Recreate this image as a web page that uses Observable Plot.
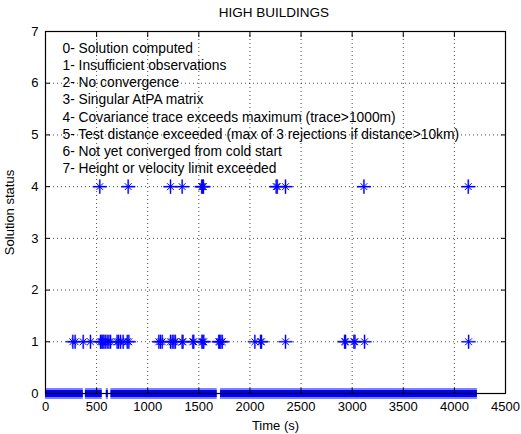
<!DOCTYPE html>
<html>
<head>
<meta charset="utf-8">
<script src="https://cdn.jsdelivr.net/npm/d3@7"></script>
<script src="https://cdn.jsdelivr.net/npm/@observablehq/plot@0.6"></script>
<style>
  html, body { margin: 0; padding: 0; background: #fff; }
  body { width: 521px; height: 434px; overflow: hidden; font-family: "Liberation Sans", Arial, sans-serif; }
  #title { height: 24px; width: 521px; position: relative; }
  #title span { position: absolute; left: 274px; top: 5px; transform: translateX(-50%); font-size: 13.5px; color: #000; white-space: nowrap; }
</style>
</head>
<body>
<div id="title"><span id="titleText"></span></div>
<div id="chart"></div>
<script>
const titleText = "HIGH BUILDINGS";
const xLabel = "Time (s)";
const yLabel = "Solution status";
const xTicks = [0, 500, 1000, 1500, 2000, 2500, 3000, 3500, 4000, 4500];
const yTicks = [0, 1, 2, 3, 4, 5, 6, 7];

// status 0: runs of (nearly) continuous epochs [start, end] in seconds
const status0Start = [0, 390, 595, 640, 1712];
const status0End   = [370, 555, 615, 1680, 4225];

// status 1 epochs (s)
const status1Times = [267, 290, 369, 440, 538, 550, 560, 571, 585, 603, 620, 636, 701, 715, 734, 760, 800, 815,
  1109, 1125, 1142, 1223, 1240, 1256, 1270, 1337, 1345, 1441, 1450, 1530, 1539, 1548, 1695, 1703, 1715, 1729,
  2048, 2104, 2113, 2348, 2926, 2935, 3017, 3027, 3121, 4139];

// status 4 epochs (s)
const status4Times = [531, 809, 1223, 1337, 1528, 1536, 1545, 2257, 2267, 2348, 3115, 4136];

const legendLines = [
  "0- Solution computed",
  "1- Insufficient observations",
  "2- No convergence",
  "3- Singular AtPA matrix",
  "4- Covariance trace exceeds maximum (trace>1000m)",
  "5- Test distance exceeded (max of 3 rejections if distance>10km)",
  "6- Not yet converged from cold start",
  "7- Height or velocity limit exceeded"
];

document.getElementById("titleText").textContent = titleText;

const segments = status0Start.map((s, i) => ({start: s, end: status0End[i], status: 0}));
const points = [
  ...status1Times.map(t => ({time: t, status: 1})),
  ...status4Times.map(t => ({time: t, status: 4}))
];

const blue = "#0000ff";
const chart = Plot.plot({
  width: 521,
  height: 410,
  marginTop: 7,
  marginBottom: 41,
  marginLeft: 45,
  marginRight: 16,
  style: {fontFamily: "'Liberation Sans', Arial, sans-serif", fontSize: "13px", color: "#000", background: "#fff"},
  x: {domain: [0, 4500]},
  y: {domain: [0, 7]},
  marks: [
    Plot.gridX(xTicks, {stroke: "#000", strokeOpacity: 0.7, strokeDasharray: "1,3"}),
    Plot.gridY(yTicks, {stroke: "#000", strokeOpacity: 0.7, strokeDasharray: "1,3"}),
    Plot.text([legendLines.join("\n")], {
      frameAnchor: "top-left", dx: 17, dy: 9, lineAnchor: "top", lineHeight: 1.25,
      textAnchor: "start", fontSize: 13.8, fill: "#000"
    }),
    Plot.ruleY(segments, {x1: "start", x2: "end", y: "status", stroke: "#8080ff", strokeWidth: 11}),
    Plot.ruleY(segments, {x1: "start", x2: "end", y: "status", stroke: blue, strokeWidth: 7}),
    Plot.dot(points, {x: "time", y: "status", symbol: "plus", r: 4.6, stroke: "#9a9aff", strokeWidth: 2}),
    Plot.dot(points, {x: "time", y: "status", symbol: "plus", r: 4.6, stroke: blue, strokeWidth: 1.1}),
    Plot.dot(points, {x: "time", y: "status", symbol: "times", r: 3.2, stroke: blue, strokeWidth: 1}),
    Plot.frame({stroke: "#000", strokeWidth: 1.2}),
    Plot.axisX(xTicks, {anchor: "bottom", tickSize: -5, tickPadding: 13, tickFormat: d => String(d), label: xLabel, labelAnchor: "center", labelArrow: "none", labelOffset: 36}),
    Plot.axisX(xTicks, {anchor: "top", tickSize: -5, tickFormat: () => "", label: null}),
    Plot.axisY(yTicks, {anchor: "left", tickSize: -5, tickPadding: 12, tickFormat: d => String(d), label: yLabel, labelAnchor: "center", labelArrow: "none", labelOffset: 41}),
    Plot.axisY(yTicks, {anchor: "right", tickSize: -5, tickFormat: () => "", label: null})
  ]
});
document.getElementById("chart").appendChild(chart);
</script>
</body>
</html>
